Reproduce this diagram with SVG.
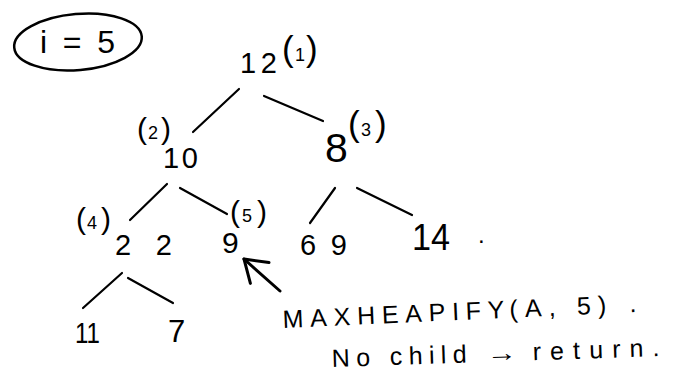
<svg xmlns="http://www.w3.org/2000/svg" width="680" height="379" viewBox="0 0 680 379">
<style>
  text { font-family: "Liberation Sans", Arial, sans-serif; fill: #000; }
  .num { font-size: 29px; }
  .lbl { font-size: 18px; }
  .par { font-size: 30px; }
  .parL { font-size: 35px; }
  .note { font-size: 25px; }
  .edge { stroke: #000; stroke-width: 2.2; stroke-linecap: round; fill: none; }
  .ptr { stroke: #000; stroke-width: 3; stroke-linecap: round; fill: none; }
</style>
<defs>
  <marker id="ah" viewBox="-24 -16 26 32" markerWidth="26" markerHeight="32" refX="0" refY="0" orient="auto" markerUnits="userSpaceOnUse">
    <path d="M-21,-14 L0,0 L-21,14" fill="none" stroke="#000" stroke-width="3" stroke-linecap="round" stroke-linejoin="round"/>
  </marker>
</defs>
<rect width="680" height="379" fill="#fff"/>

<g id="index-label">
  <ellipse cx="78" cy="42" rx="64" ry="28" transform="rotate(-5 78 42)" fill="none" stroke="#000" stroke-width="2.5"/>
  <text x="40" y="53" font-size="32" textLength="75" lengthAdjust="spacing">i = 5</text>
</g>

<g id="connectors">
  <line class="edge" x1="239" y1="89" x2="193" y2="132"/>
  <line class="edge" x1="264" y1="96" x2="323" y2="121"/>
  <line class="edge" x1="167" y1="184" x2="130" y2="220"/>
  <line class="edge" x1="180" y1="188" x2="227" y2="214"/>
  <line class="edge" x1="335" y1="188" x2="310" y2="223"/>
  <line class="edge" x1="357" y1="188" x2="412" y2="215"/>
  <line class="edge" x1="122" y1="273" x2="83" y2="308"/>
  <line class="edge" x1="128" y1="278" x2="173" y2="303"/>
  <line class="ptr" x1="280" y1="291" x2="244" y2="259" marker-end="url(#ah)"/>
</g>

<g id="n1">
  <text class="num" x="240" y="73" textLength="37" lengthAdjust="spacing">12</text>
  <text class="lbl" y="61"><tspan class="parL" x="282">(</tspan><tspan x="295">1</tspan><tspan class="parL" x="306">)</tspan></text>
</g>
<g id="n2">
  <text class="num" x="163" y="168" textLength="35" lengthAdjust="spacing">10</text>
  <text class="lbl" y="139"><tspan class="par" x="137">(</tspan><tspan x="148">2</tspan><tspan class="par" x="161">)</tspan></text>
</g>
<g id="n3">
  <text x="325" y="162" font-size="41">8</text>
  <text class="lbl" y="136"><tspan class="parL" x="348">(</tspan><tspan x="361">3</tspan><tspan class="parL" x="375">)</tspan></text>
</g>
<g id="n4">
  <text class="num" x="115" y="255" textLength="57" lengthAdjust="spacing">22</text>
  <text class="lbl" y="229"><tspan class="par" x="76">(</tspan><tspan x="87">4</tspan><tspan class="par" x="101">)</tspan></text>
</g>
<g id="n5">
  <text x="222" y="253" font-size="30">9</text>
  <text class="lbl" y="222"><tspan class="par" x="230">(</tspan><tspan x="242">5</tspan><tspan class="par" x="257">)</tspan></text>
</g>
<g id="n6">
  <text class="num" x="300" y="255" textLength="47" lengthAdjust="spacing">69</text>
</g>
<g id="n7">
  <text x="412" y="250" font-size="36" textLength="38" lengthAdjust="spacingAndGlyphs">14</text>
  <text x="478" y="243" font-size="24">.</text>
</g>
<g id="n8">
  <text x="75" y="343" font-size="30" textLength="25" lengthAdjust="spacingAndGlyphs">11</text>
</g>
<g id="n9">
  <text x="168" y="342" font-size="31">7</text>
</g>

<g id="note" transform="rotate(-2.6 283 328)">
  <text class="note" x="283" y="328" textLength="222" lengthAdjust="spacing">MAXHEAPIFY</text>
  <text class="note" x="510" y="328" textLength="97" lengthAdjust="spacing">(A, 5)</text>
  <text class="note" x="630" y="328">.</text>
</g>
<g id="note2" transform="rotate(-1.9 332 367)">
  <text class="note" x="332" y="367" textLength="135" lengthAdjust="spacing">No child</text>
  <text class="note" x="487" y="367" textLength="30" lengthAdjust="spacingAndGlyphs">→</text>
  <text class="note" x="533" y="367" textLength="127" lengthAdjust="spacing">return.</text>
</g>
</svg>
